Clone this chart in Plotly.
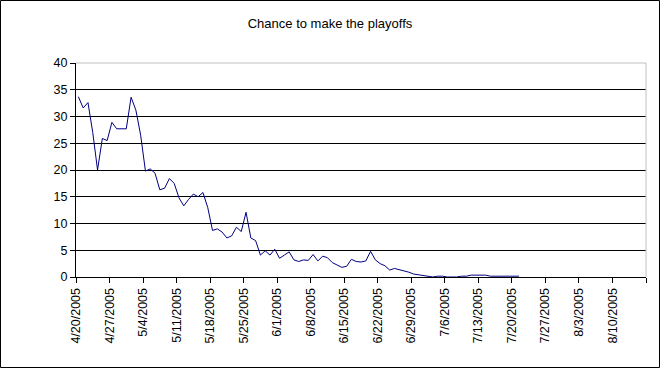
import plotly.graph_objects as go
import pandas as pd

# ---- data -------------------------------------------------------------
start_date = "2005-04-20"
chance = [
    33.7, 31.6, 32.6, 27.0, 20.0, 25.9, 25.5, 28.9, 27.7, 27.7,
    27.7, 33.6, 31.2, 26.5, 19.8, 20.2, 19.4, 16.3, 16.6, 18.4,
    17.5, 14.8, 13.3, 14.5, 15.5, 15.0, 15.8, 13.0, 8.7, 9.0,
    8.4, 7.3, 7.7, 9.3, 8.5, 12.1, 7.3, 6.8, 4.1, 4.9,
    4.1, 5.2, 3.5, 4.1, 4.7, 3.2, 2.9, 3.2, 3.1, 4.2,
    3.0, 3.9, 3.6, 2.7, 2.2, 1.8, 2.0, 3.3, 2.9, 2.8,
    3.0, 4.8, 3.2, 2.5, 2.1, 1.3, 1.6, 1.4, 1.2, 0.9,
    0.55, 0.4, 0.35, 0.2, 0.0, 0.15, 0.15, 0.0, 0.0, 0.0,
    0.15, 0.15, 0.35, 0.35, 0.35, 0.35, 0.15, 0.15, 0.15, 0.15,
    0.15, 0.15, 0.15,
]
dates = pd.date_range(start_date, periods=len(chance), freq="D")

tick_dates = pd.date_range("2005-04-20", "2005-08-17", freq="7D")
tick_labels = [f"{d.month}/{d.day}/{d.year}" for d in tick_dates[:-1]] + [""]
y_ticks = [0, 5, 10, 15, 20, 25, 30, 35, 40]

# ---- figure -----------------------------------------------------------
W, H = 660, 368
ML, MR, MT, MB = 76, 14, 63, 91
PW, PH = W - ML - MR, H - MT - MB

fig = go.Figure()
fig.add_trace(go.Scatter(
    x=dates, y=chance, mode="lines",
    xperiod=86400000, xperiodalignment="middle",
    line=dict(color="#000080", width=1),
    hoverinfo="x+y", showlegend=False,
))

font = dict(family="Liberation Sans, Arial, sans-serif", color="black")

fig.update_layout(
    width=W, height=H,
    margin=dict(l=ML, r=MR, t=MT, b=MB, pad=0),
    paper_bgcolor="white", plot_bgcolor="white",
    font=dict(**font, size=12.5),
    title=dict(text="Chance to make the playoffs", x=0.5, xanchor="center",
               y=1 - 23 / H, yanchor="middle", yref="container",
               font=dict(**font, size=13)),
    xaxis=dict(
        type="date", range=["2005-04-20", "2005-08-17"],
        tickvals=list(tick_dates), ticktext=tick_labels, tickangle=-90,
        ticks="outside", ticklen=5, tickcolor="black", tickwidth=1,
        showline=True, linecolor="black", linewidth=1,
        showgrid=False, zeroline=False,
        tickfont=dict(**font, size=12.5),
    ),
    yaxis=dict(
        range=[0, 40], tickvals=y_ticks, ticktext=[str(v) for v in y_ticks],
        ticks="outside", ticklen=5, tickcolor="black", tickwidth=1,
        showline=True, linecolor="black", linewidth=1,
        showgrid=True, gridcolor="black", gridwidth=1, zeroline=False,
        tickfont=dict(**font, size=12.5),
    ),
)

# plot-area top and right border (gray), and outer chart border (black)
fig.add_shape(type="line", xref="paper", yref="paper", x0=0, x1=1, y0=1, y1=1,
              line=dict(color="#c0c0c0", width=1), layer="above")
fig.add_shape(type="line", xref="paper", yref="paper", x0=1, x1=1, y0=0, y1=1,
              line=dict(color="#c0c0c0", width=1), layer="above")
fig.add_shape(type="rect", xref="paper", yref="paper",
              x0=(0.5 - ML) / PW, x1=(W - 0.5 - ML) / PW,
              y0=-(H - 0.5 - MT - PH) / PH, y1=(MT - 0.5) / PH + 1,
              line=dict(color="black", width=1), layer="above")

fig.write_html("out.html")
